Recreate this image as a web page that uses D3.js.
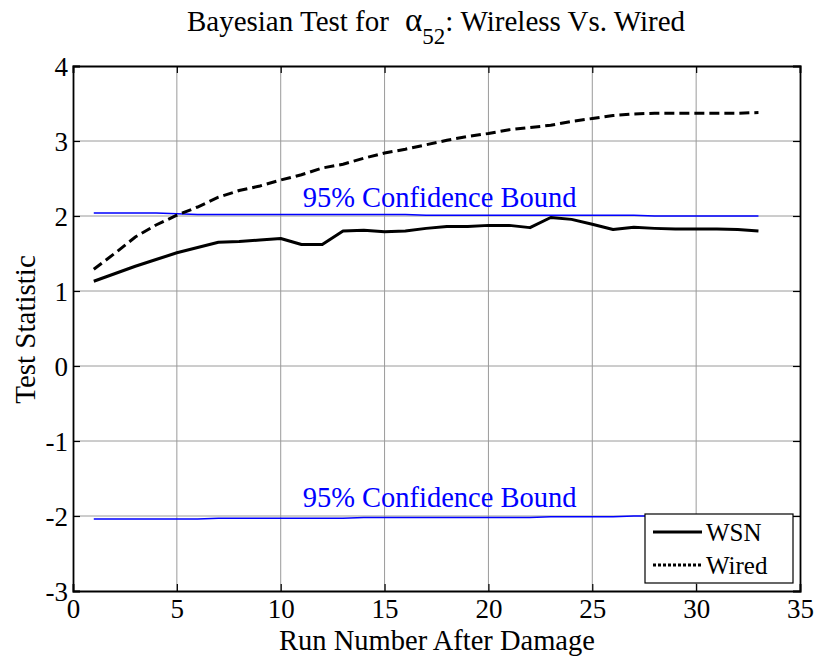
<!DOCTYPE html>
<html><head><meta charset="utf-8">
<script src="https://cdn.jsdelivr.net/npm/d3@7"></script>
<style>body{margin:0;background:#fff}svg{display:block}text{font-family:"Liberation Serif","Times New Roman",serif}</style>
</head><body>
<svg id="c" width="818" height="658"></svg>
<script>
const runs = d3.range(1, 34);
const wsn = [1.13,1.23,1.33,1.42,1.51,1.58,1.65,1.66,1.68,1.70,1.62,1.62,1.80,1.81,1.79,1.80,1.835,1.86,1.86,1.875,1.875,1.845,1.98,1.955,1.89,1.82,1.85,1.835,1.826,1.826,1.826,1.82,1.80];
const wired = [1.29,1.50,1.72,1.88,2.01,2.12,2.25,2.34,2.40,2.48,2.55,2.64,2.69,2.77,2.84,2.89,2.95,3.01,3.06,3.10,3.15,3.18,3.21,3.26,3.30,3.34,3.36,3.37,3.37,3.37,3.37,3.37,3.38];
const upperBound = [2.04,2.04,2.04,2.04,2.03,2.02,2.02,2.02,2.02,2.02,2.02,2.02,2.02,2.02,2.02,2.02,2.01,2.01,2.01,2.01,2.01,2.01,2.01,2.01,2.01,2.01,2.01,2.00,2.00,2.00,2.00,2.00,2.00];
const lowerBound = [-2.04,-2.04,-2.04,-2.04,-2.04,-2.04,-2.03,-2.03,-2.03,-2.03,-2.03,-2.03,-2.03,-2.02,-2.02,-2.02,-2.02,-2.02,-2.02,-2.02,-2.02,-2.02,-2.01,-2.01,-2.01,-2.01,-2.00,-2.00,-2.00,-2.00,-2.00,-2.00,-2.00];
const xTicks = [0,5,10,15,20,25,30,35];
const yTicks = [-3,-2,-1,0,1,2,3,4];
const boundLabel = "95% Confidence Bound";
const seriesNames = ["WSN","Wired"];

const svg = d3.select("#c");
const L = 73, R = 800, T = 66, B = 591;
const x = d3.scaleLinear().domain([0,35]).range([L,R]);
const y = d3.scaleLinear().domain([-3,4]).range([B,T]);

svg.append("rect").attr("width",818).attr("height",658).attr("fill","#fff");

// grid
const g = svg.append("g");
g.selectAll(".gx").data(xTicks.slice(1,-1)).join("line")
  .attr("x1",d=>x(d)).attr("x2",d=>x(d)).attr("y1",T).attr("y2",B)
  .attr("stroke","#9a9a9a").attr("stroke-width",1);
g.selectAll(".gy").data(yTicks.slice(1,-1)).join("line")
  .attr("y1",d=>y(d)).attr("y2",d=>y(d)).attr("x1",L).attr("x2",R)
  .attr("stroke","#9a9a9a").attr("stroke-width",1);

// axes
const fs = "27px";
const fmt = d => String(d);
const ax = svg.append("g").attr("transform",`translate(0,${B})`)
  .call(d3.axisBottom(x).tickValues(xTicks).tickSize(-7).tickPadding(8).tickFormat(fmt));
const axT = svg.append("g").attr("transform",`translate(0,${T})`)
  .call(d3.axisTop(x).tickValues(xTicks).tickSize(-7).tickFormat(""));
const ay = svg.append("g").attr("transform",`translate(${L},0)`)
  .call(d3.axisLeft(y).tickValues(yTicks).tickSize(-7).tickPadding(5).tickFormat(fmt));
const ayR = svg.append("g").attr("transform",`translate(${R},0)`)
  .call(d3.axisRight(y).tickValues(yTicks).tickSize(-7).tickFormat(""));
[ax,axT,ay,ayR].forEach(a=>{
  a.attr("font-family",null);
  a.select(".domain").attr("stroke","#000").attr("stroke-width",1.8);
  a.selectAll(".tick line").attr("stroke","#000").attr("stroke-width",1.2);
  a.selectAll("text").attr("font-size",fs).attr("fill","#000");
});
ax.selectAll("text").attr("dy",null).attr("y",27);
ay.selectAll("text").attr("dy","0.34em");

// lines
const line = d3.line().x((d,i)=>x(runs[i])).y(d=>y(d));
svg.append("path").datum(upperBound).attr("d",line).attr("fill","none").attr("stroke","#0000ff").attr("stroke-width",1.6);
svg.append("path").datum(lowerBound).attr("d",line).attr("fill","none").attr("stroke","#0000ff").attr("stroke-width",1.6);
svg.append("path").datum(wsn).attr("d",line).attr("fill","none").attr("stroke","#000").attr("stroke-width",3).attr("stroke-linejoin","round");
svg.append("path").datum(wired).attr("d",line).attr("fill","none").attr("stroke","#000").attr("stroke-width",3).attr("stroke-dasharray","10,5");

// bound labels
svg.append("text").attr("x",x(17.65)).attr("y",y(2.125)).attr("text-anchor","middle")
  .attr("font-size","28.5px").attr("fill","#0000ff").text(boundLabel);
svg.append("text").attr("x",x(17.65)).attr("y",y(-1.875)).attr("text-anchor","middle")
  .attr("font-size","28.5px").attr("fill","#0000ff").text(boundLabel);

// legend
const lg = svg.append("g");
lg.append("rect").attr("x",645).attr("y",514).attr("width",148).attr("height",69)
  .attr("fill","#fff").attr("stroke","#000").attr("stroke-width",1.2);
lg.append("line").attr("x1",653).attr("x2",702).attr("y1",532).attr("y2",532).attr("stroke","#000").attr("stroke-width",3);
lg.append("line").attr("x1",653).attr("x2",702).attr("y1",565).attr("y2",565).attr("stroke","#000").attr("stroke-width",3).attr("stroke-dasharray","3,2");
lg.append("text").attr("x",706).attr("y",541).attr("font-size","25px").text(seriesNames[0]);
lg.append("text").attr("x",706).attr("y",574).attr("font-size","25px").text(seriesNames[1]);

// axis labels
svg.append("text").attr("x",437).attr("y",650).attr("text-anchor","middle").attr("font-size","28.5px").text("Run Number After Damage");
svg.append("text").attr("transform",`translate(35,${(T+B)/2+1}) rotate(-90)`).attr("text-anchor","middle").attr("font-size","29px").text("Test Statistic");

// title
const t = svg.append("text").attr("x",436).attr("y",31).attr("text-anchor","middle").attr("font-size","29px");
t.append("tspan").text("Bayesian Test for");
t.append("tspan").attr("font-size","33px").attr("dx",16).text("α");
t.append("tspan").attr("font-size","23px").attr("dy",13).text("52");
t.append("tspan").attr("dy",-13).text(": Wireless Vs. Wired");
</script>
</body></html>
